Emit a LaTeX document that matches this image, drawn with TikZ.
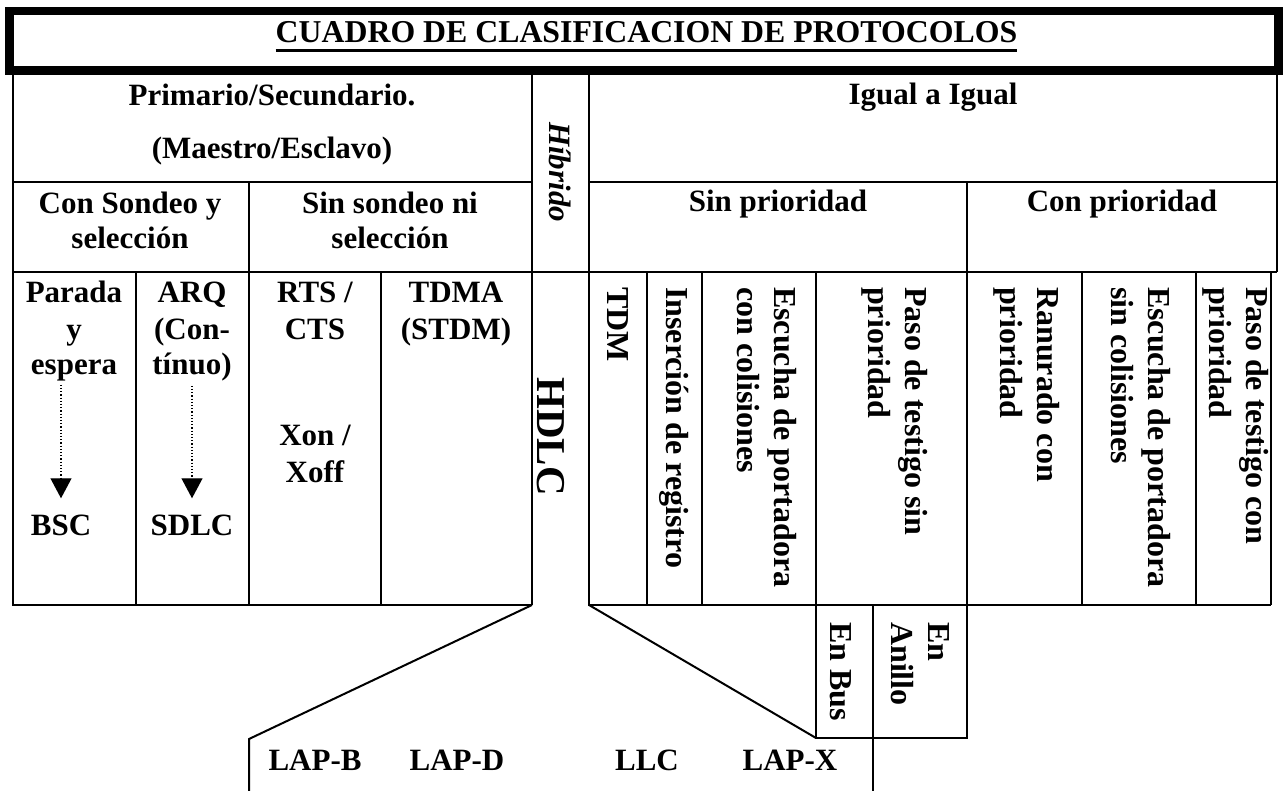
\documentclass[tikz,border=0pt]{standalone}
\usepackage{fontspec}
\setmainfont{Liberation Serif}
\usetikzlibrary{arrows.meta}
\begin{document}
\begin{tikzpicture}[x=1pt,y=-1pt,
  tbl/.style={line width=2pt},
  txt/.style={inner sep=0pt, anchor=base, font=\fontsize{31}{37}\selectfont\bfseries},
  rtxt/.style={inner sep=0pt, anchor=west, rotate=-90, align=left, font=\fontsize{32}{37}\selectfont\bfseries},
  dotarrow/.style={dotted, line width=1.2pt, -{Triangle[width=21pt,length=20pt]}}
]
\fill[white] (0,0) rectangle (1285,791);
\useasboundingbox (0,0) rectangle (1285,791);

% title
\draw[line width=8.5pt] (9.5,11) rectangle (1278.5,70.5);
\node[txt, font=\fontsize{31.8}{36}\selectfont\bfseries] (title) at (646.5,43) {CUADRO DE CLASIFICACION DE PROTOCOLOS};
\draw[line width=3pt] ([yshift=-8pt]title.base west) -- ([yshift=-8pt]title.base east);

% table grid
\draw[tbl] (13,74) -- (13,605) -- (532,605);
\draw[tbl] (532,74) -- (532,605);
\draw[tbl] (589,74) -- (589,605) -- (1271,605);
\draw[tbl] (1277,74) -- (1277,272);
\draw[tbl] (1271,272) -- (1271,605);
\draw[tbl] (13,182) -- (532,182);
\draw[tbl] (589,182) -- (1277,182);
\draw[tbl] (13,272) -- (1277,272);
\draw[tbl] (249,182) -- (249,605);
\draw[tbl] (967,182) -- (967,605);
\foreach \x in {136,381,647,702,816,1082,1196} \draw[tbl] (\x,272) -- (\x,605);

% funnel and lower boxes
\draw[tbl] (532,605) -- (249,739) -- (249,791);
\draw[tbl] (589,605) -- (816,738);
\draw[tbl] (816,605) -- (816,738) -- (967,738) -- (967,605);
\draw[tbl] (873,605) -- (873,791);

% row 1
\node[txt] (prim) at (272,106) {Primario/Secundario.};
\node[txt] (maes) at (272,159) {(Maestro/Esclavo)};
\node[txt] (igual) at (933,105) {Igual a Igual};
\node[rtxt, font=\fontsize{31}{37}\selectfont\bfseries\itshape] (hib) at (560,122) {Híbrido};

% row 2
\node[txt] (cs1) at (130,214) {Con Sondeo y};
\node[txt] (cs2) at (130,249) {selección};
\node[txt] (ss1) at (390,214) {Sin sondeo ni};
\node[txt] (ss2) at (390,249) {selección};
\node[txt] (sinp) at (778,212) {Sin prioridad};
\node[txt] (conp) at (1122,212) {Con prioridad};

% row 3 left
\node[txt] (parada) at (74,303) {Parada};
\node[txt] (yy) at (74,340) {y};
\node[txt] (espera) at (74,375) {espera};
\node[txt] (arq) at (192,303) {ARQ};
\node[txt] (con) at (192,340) {(Con-};
\node[txt] (tinuo) at (192,375) {tínuo)};
\node[txt] (rts) at (315,303) {RTS /};
\node[txt] (cts) at (315,340) {CTS};
\node[txt] (xon) at (315,445) {Xon /};
\node[txt] (xoff) at (315,482) {Xoff};
\node[txt] (tdma) at (456,303) {TDMA};
\node[txt] (stdm) at (456,340) {(STDM)};
\node[txt] (bsc) at (61,535) {BSC};
\node[txt] (sdlc) at (192,535) {SDLC};
\draw[dotarrow, shorten <=3pt, shorten >=16pt] (espera.south -| bsc.north) -- (bsc.north);
\draw[dotarrow, shorten <=4pt, shorten >=16pt] (tinuo.south -| sdlc.north) -- (sdlc.north);

% HDLC
\node[rtxt, font=\fontsize{41}{48}\selectfont\bfseries] (hdlc) at (551,377) {HDLC};

% row 3 right
\node[rtxt] (tdm) at (618,287) {TDM};
\node[rtxt] (ins) at (674,287) {Inserción de registro};
\node[rtxt] (esc1) at (767,287) {Escucha de portadora\\con colisiones};
\node[rtxt] (pts) at (895,287) {Paso de testigo sin\\prioridad};
\node[rtxt] (ran) at (1027,287) {Ranurado con\\prioridad};
\node[rtxt] (esc2) at (1141,287) {Escucha de portadora\\sin colisiones};
\node[rtxt] (ptc) at (1236,287) {Paso de testigo con\\prioridad};

% lower
\node[rtxt] (bus) at (841,622) {En Bus};
\node[rtxt] (anillo) at (920,622) {En\\Anillo};
\node[txt] (lapb) at (315,770) {LAP-B};
\node[txt] (lapd) at (457,770) {LAP-D};
\node[txt] (llc) at (647,770) {LLC};
\node[txt] (lapx) at (790,770) {LAP-X};
\end{tikzpicture}
\end{document}
